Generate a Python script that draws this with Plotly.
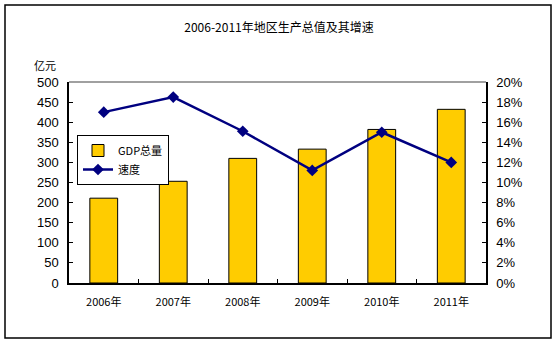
import plotly.graph_objects as go

years = ["2006年", "2007年", "2008年", "2009年", "2010年", "2011年"]
gdp = [211, 253, 310, 333, 382, 432]
growth = [0.170, 0.185, 0.151, 0.112, 0.150, 0.120]

L, R, T, B = 69, 72, 82, 61
W, H = 558 - L - R, 344 - T - B

def px(x):
    return (x - L) / W

def py(y):
    return (344 - B - y) / H

cjk = "Noto Sans CJK SC, Liberation Sans, Arial, sans-serif"

fig = go.Figure()
fig.add_trace(go.Bar(
    x=years, y=gdp, name="GDP总量",
    marker=dict(color="#FFCC00", line=dict(color="black", width=1)),
    width=0.4,
))
fig.add_trace(go.Scatter(
    x=years, y=growth, name="速度", yaxis="y2", mode="lines+markers",
    line=dict(color="#000080", width=2.5),
    marker=dict(symbol="diamond", size=9, color="#000080"),
))

fig.update_layout(
    width=558, height=344,
    margin=dict(l=L, r=R, t=T, b=B),
    paper_bgcolor="white", plot_bgcolor="white",
    showlegend=True,
    title=dict(text="2006-2011年地区生产总值及其增速", x=0.5, xanchor="center",
               y=1 - 28 / 344, yanchor="middle",
               font=dict(family=cjk, size=12, color="black")),
    font=dict(family="Liberation Sans, Arial, sans-serif", size=12, color="black"),
    xaxis=dict(
        showline=True, linecolor="black", linewidth=1.5,
        ticks="inside", ticklen=4, tickcolor="black", tickson="boundaries",
        tickfont=dict(family=cjk, size=11), ticklabelstandoff=8,
        showgrid=False, mirror=False,
    ),
    yaxis=dict(
        range=[0, 500], dtick=50, showline=True, linecolor="black", linewidth=1.5,
        ticks="inside", ticklen=4, tickcolor="black", showgrid=False,
        zeroline=False, tickfont=dict(size=13), ticklabelstandoff=6,
    ),
    yaxis2=dict(
        range=[0, 0.2], dtick=0.02, tickformat=".0%", overlaying="y", side="right",
        showline=True, linecolor="black", linewidth=1.5,
        ticks="inside", ticklen=4, tickcolor="black", showgrid=False,
        zeroline=False, tickfont=dict(size=13), ticklabelstandoff=6,
    ),
    legend=dict(
        x=px(77), y=py(135), xanchor="left", yanchor="top",
        bordercolor="black", borderwidth=1, bgcolor="white",
        font=dict(family=cjk, size=11),
        itemwidth=30, tracegroupgap=0,
    ),
    shapes=[
        dict(type="line", xref="paper", yref="paper", x0=0, x1=1, y0=1, y1=1,
             line=dict(color="#808080", width=1.5)),
        dict(type="rect", xref="paper", yref="paper",
             x0=px(5), x1=px(551), y0=py(5), y1=py(338),
             line=dict(color="black", width=1.5), layer="below"),
    ],
    annotations=[
        dict(text="亿元", xref="paper", yref="paper", x=px(45), y=py(65),
             showarrow=False, font=dict(family=cjk, size=11, color="black"),
             xanchor="center", yanchor="middle"),
    ],
)

fig.write_html("out.html")
